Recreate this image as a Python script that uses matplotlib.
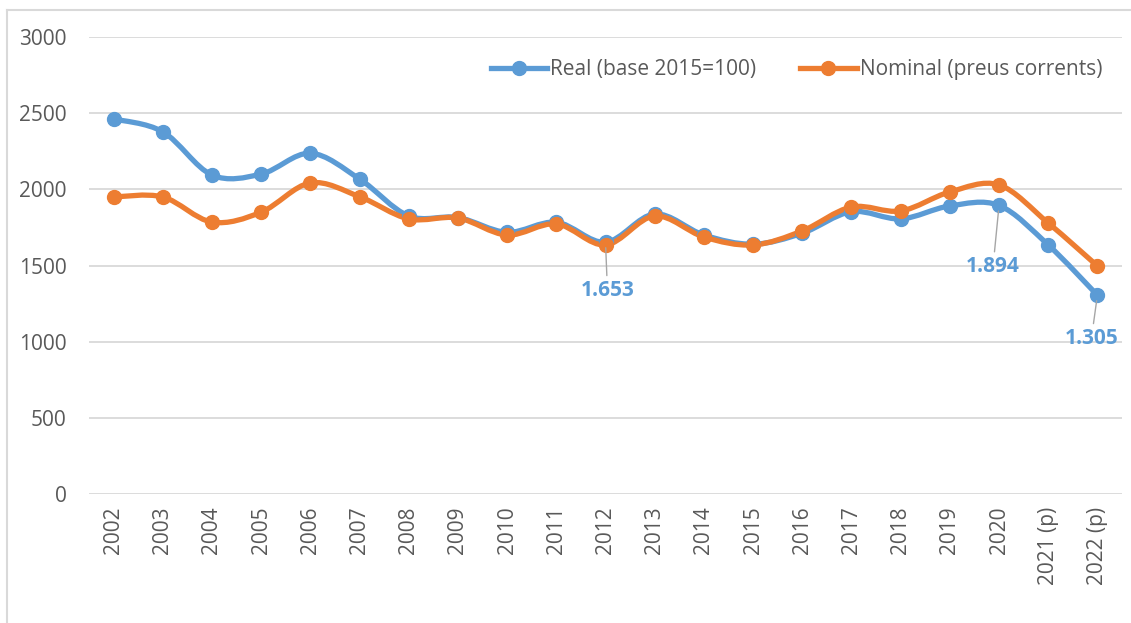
import numpy as np
import matplotlib.pyplot as plt
from matplotlib.path import Path
from matplotlib.patches import PathPatch
from matplotlib.lines import Line2D

years = ['2002', '2003', '2004', '2005', '2006', '2007', '2008', '2009', '2010', '2011',
         '2012', '2013', '2014', '2015', '2016', '2017', '2018', '2019', '2020',
         '2021 (p)', '2022 (p)']
real = [2462, 2378, 2094, 2100, 2237, 2068, 1825, 1815, 1718, 1784,
        1653, 1838, 1700, 1640, 1712, 1853, 1806, 1891, 1894, 1635, 1305]
nominal = [1950, 1950, 1785, 1850, 2042, 1952, 1806, 1812, 1700, 1773,
           1635, 1825, 1687, 1635, 1727, 1884, 1858, 1983, 2029, 1779, 1497]
labelled = [10, 18, 20]  # indices of the real series that carry a value label

blue = '#5B9BD5'
orange = '#ED7D31'
grey_text = '#595959'

plt.rcParams['font.family'] = ['Open Sans', 'DejaVu Sans']


def smooth_path(x, y):
    # Excel-like smoothed line: cubic bezier through every point
    pts = np.column_stack([x, y]).astype(float)
    verts = [pts[0]]
    codes = [Path.MOVETO]
    n = len(pts)
    for i in range(n - 1):
        p0 = pts[max(i - 1, 0)]
        p1 = pts[i]
        p2 = pts[i + 1]
        p3 = pts[min(i + 2, n - 1)]
        c1 = p1 + (p2 - p0) / 6.0
        c2 = p2 - (p3 - p1) / 6.0
        verts += [c1, c2, p2]
        codes += [Path.CURVE4] * 3
    return Path(verts, codes)


fig = plt.figure(figsize=(11.31, 6.23), dpi=100)
ax = fig.add_axes([89 / 1131, 1 - 494 / 623, (1122 - 89) / 1131, (494 - 37) / 623])

x = np.arange(len(years))
for vals, col in [(real, blue), (nominal, orange)]:
    ax.add_patch(PathPatch(smooth_path(x, vals), facecolor='none', edgecolor=col,
                           lw=3.8, capstyle='round', joinstyle='round', zorder=3))
    ax.plot(x, vals, 'o', color=col, markersize=10, zorder=4)

offsets = {10: (1.4, -34.6), 18: (-4.3, -43.9), 20: (-4.3, -31)}
for i in labelled:
    ax.annotate(f'{real[i]:,}'.replace(',', '.'), xy=(x[i], real[i]),
                xytext=offsets[i], textcoords='offset points',
                ha='center', va='center', fontsize=15, fontweight='bold', color=blue,
                arrowprops=dict(arrowstyle='-', color='#A6A6A6', lw=1,
                                shrinkA=1, shrinkB=4), zorder=5)

ax.set_xlim(-0.5, len(years) - 0.5)
ax.set_ylim(0, 3000)
ax.set_yticks(np.arange(0, 3001, 500))
ax.set_xticks(x)
ax.set_xticklabels(years, rotation=90)
ax.tick_params(axis='both', length=0, labelsize=15, labelcolor=grey_text)
ax.tick_params(axis='y', pad=16)
ax.tick_params(axis='x', pad=9)
ax.grid(axis='y', color='#D9D9D9', lw=1.3)
ax.set_axisbelow(True)
for s in ax.spines.values():
    s.set_visible(False)

handles = [Line2D([], [], color=blue, lw=3.8, marker='o', markersize=10),
           Line2D([], [], color=orange, lw=3.8, marker='o', markersize=10)]
fig.legend(handles, ['Real (base 2015=100)', 'Nominal (preus corrents)'],
           loc='center right', bbox_to_anchor=(1121 / 1131, 1 - 70 / 623),
           ncol=2, frameon=False, fontsize=15, labelcolor=grey_text,
           handlelength=2.7, handletextpad=0.15, columnspacing=2.1)

# outer chart frame (cut by the picture edges)
fig.add_artist(Line2D([7 / 1131, 7 / 1131], [0, 1 - 10 / 623], color='#D9D9D9', lw=1.5))
fig.add_artist(Line2D([7 / 1131, 1], [1 - 10 / 623, 1 - 10 / 623], color='#D9D9D9', lw=1.5))

fig.savefig('out.png', dpi=100)
